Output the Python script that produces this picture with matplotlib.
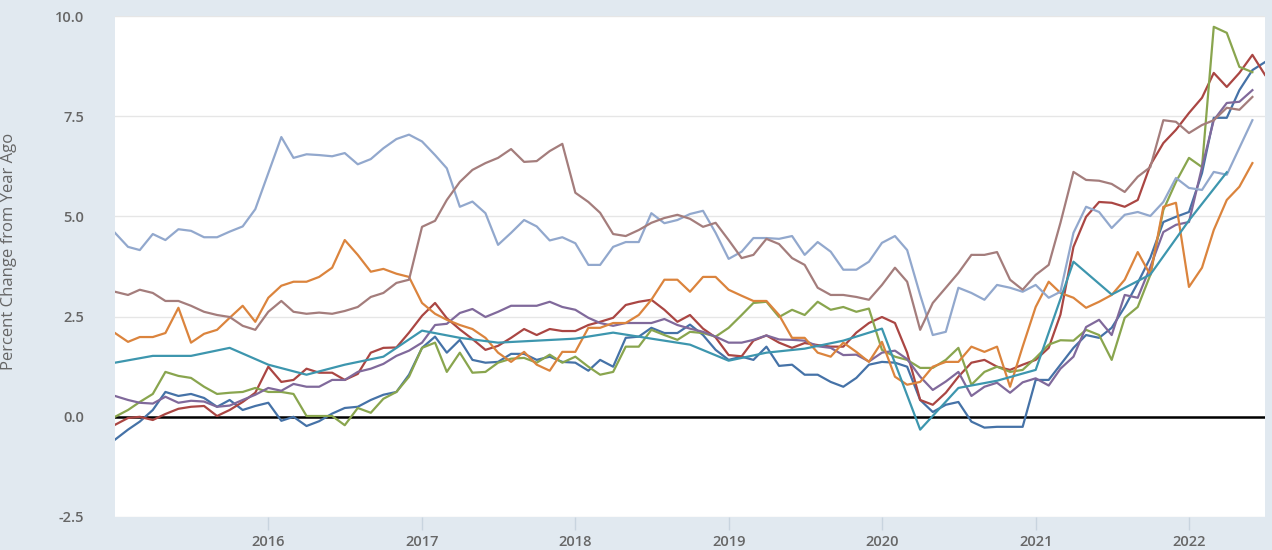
import matplotlib
matplotlib.use("Agg")
import matplotlib.pyplot as plt
import matplotlib.dates as mdates
import pandas as pd

# monthly series, Jan 2015 onwards (percent change from year ago)
light_blue = [4.59, 4.24, 4.16, 4.56, 4.41, 4.68, 4.64, 4.48, 4.48, 4.62, 4.75, 5.18,
              6.08, 6.98, 6.46, 6.55, 6.53, 6.5, 6.58, 6.3, 6.43, 6.7, 6.93, 7.04,
              6.87, 6.53, 6.2, 5.24, 5.37, 5.08, 4.29, 4.59, 4.91, 4.75, 4.4, 4.48,
              4.33, 3.79, 3.79, 4.24, 4.36, 4.36, 5.08, 4.83, 4.91, 5.06, 5.14, 4.59,
              3.94, 4.12, 4.46, 4.46, 4.44, 4.51, 4.04, 4.36, 4.12, 3.67, 3.67, 3.87,
              4.34, 4.51, 4.16, 3.04, 2.04, 2.12, 3.22, 3.09, 2.92, 3.29, 3.22, 3.12,
              3.29, 2.97, 3.12, 4.59, 5.24, 5.11, 4.71, 5.04, 5.11, 5.01, 5.36, 5.96,
              5.71, 5.66, 6.11, 6.04, 6.71, 7.4]
brown = [3.12, 3.04, 3.17, 3.09, 2.89, 2.89, 2.77, 2.62, 2.54, 2.49, 2.27, 2.17,
         2.62, 2.89, 2.62, 2.57, 2.6, 2.57, 2.64, 2.74, 2.99, 3.09, 3.34, 3.42,
         4.74, 4.89, 5.41, 5.86, 6.16, 6.33, 6.46, 6.68, 6.36, 6.38, 6.63, 6.81,
         5.59, 5.36, 5.09, 4.56, 4.51, 4.66, 4.84, 4.96, 5.04, 4.94, 4.74, 4.84,
         4.41, 3.96, 4.04, 4.44, 4.31, 3.96, 3.79, 3.22, 3.04, 3.04, 2.99, 2.92,
         3.29, 3.72, 3.37, 2.17, 2.84, 3.22, 3.59, 4.04, 4.04, 4.11, 3.42, 3.17,
         3.54, 3.79, 4.84, 6.11, 5.91, 5.89, 5.81, 5.61, 5.99, 6.23, 7.4, 7.36,
         7.08, 7.28, 7.4, 7.71, 7.66, 7.98]
orange = [2.09, 1.87, 1.99, 1.99, 2.09, 2.72, 1.85, 2.07, 2.17, 2.47, 2.77, 2.37,
          2.97, 3.27, 3.37, 3.37, 3.49, 3.72, 4.41, 4.04, 3.62, 3.69, 3.57, 3.49,
          2.84, 2.57, 2.42, 2.29, 2.19, 1.97, 1.6, 1.37, 1.62, 1.3, 1.15, 1.62,
          1.62, 2.22, 2.22, 2.34, 2.34, 2.54, 2.92, 3.42, 3.42, 3.12, 3.49, 3.49,
          3.17, 3.02, 2.89, 2.89, 2.54, 1.97, 1.97, 1.6, 1.5, 1.85, 1.62, 1.37,
          1.87, 1.0, 0.8, 0.87, 1.25, 1.37, 1.37, 1.75, 1.62, 1.75, 0.75, 1.75,
          2.74, 3.37, 3.09, 2.97, 2.72, 2.87, 3.04, 3.42, 4.11, 3.54, 5.24, 5.34,
          3.24, 3.72, 4.66, 5.41, 5.74, 6.33]
purple = [0.52, 0.42, 0.35, 0.33, 0.5, 0.35, 0.4, 0.38, 0.25, 0.28, 0.42, 0.55,
          0.72, 0.65, 0.82, 0.75, 0.75, 0.92, 0.92, 1.12, 1.2, 1.32, 1.52, 1.65,
          1.85, 2.29, 2.32, 2.59, 2.69, 2.49, 2.62, 2.77, 2.77, 2.77, 2.87, 2.74,
          2.67, 2.47, 2.34, 2.27, 2.34, 2.34, 2.34, 2.44, 2.29, 2.2, 2.12, 2.0,
          1.85, 1.85, 1.92, 2.03, 1.93, 1.92, 1.9, 1.76, 1.72, 1.54, 1.55, 1.38,
          1.6, 1.65, 1.44, 1.0, 0.67, 0.88, 1.12, 0.52, 0.75, 0.85, 0.6, 0.86,
          0.96, 0.78, 1.2, 1.5, 2.24, 2.42, 2.04, 3.04, 2.97, 3.74, 4.61, 4.79,
          4.86, 6.23, 7.4, 7.83, 7.86, 8.15]
red = [-0.2, -0.03, 0.0, -0.08, 0.07, 0.2, 0.25, 0.27, 0.02, 0.17, 0.37, 0.6,
       1.25, 0.87, 0.92, 1.2, 1.1, 1.1, 0.92, 1.07, 1.6, 1.72, 1.73, 2.1,
       2.52, 2.84, 2.46, 2.18, 1.94, 1.67, 1.77, 1.97, 2.19, 2.04, 2.19, 2.14,
       2.14, 2.29, 2.37, 2.47, 2.79, 2.87, 2.92, 2.67, 2.37, 2.54, 2.2, 1.98,
       1.54, 1.51, 1.9, 2.03, 1.85, 1.72, 1.84, 1.79, 1.75, 1.75, 2.1, 2.34,
       2.49, 2.34, 1.6, 0.42, 0.3, 0.6, 1.0, 1.35, 1.42, 1.25, 1.17, 1.3,
       1.42, 1.72, 2.55, 4.24, 4.99, 5.36, 5.34, 5.24, 5.41, 6.28, 6.83, 7.16,
       7.58, 7.96, 8.58, 8.23, 8.58, 9.03, 8.53]
green = [0.0, 0.17, 0.37, 0.57, 1.12, 1.02, 0.97, 0.75, 0.57, 0.6, 0.62, 0.72,
         0.62, 0.62, 0.57, 0.02, 0.02, 0.02, -0.21, 0.22, 0.1, 0.45, 0.62, 1.0,
         1.72, 1.85, 1.12, 1.6, 1.1, 1.12, 1.35, 1.45, 1.47, 1.35, 1.55, 1.35,
         1.5, 1.25, 1.05, 1.12, 1.75, 1.75, 2.17, 2.04, 1.92, 2.12, 2.09, 2.0,
         2.22, 2.54, 2.84, 2.87, 2.49, 2.67, 2.54, 2.87, 2.67, 2.74, 2.62, 2.7,
         1.67, 1.5, 1.42, 1.22, 1.22, 1.42, 1.72, 0.8, 1.12, 1.25, 1.12, 1.17,
         1.47, 1.8, 1.91, 1.9, 2.17, 2.04, 1.42, 2.47, 2.74, 3.54, 5.16, 5.86,
         6.46, 6.23, 9.73, 9.58, 8.73, 8.6]
dark_blue = [-0.57, -0.32, -0.12, 0.17, 0.62, 0.52, 0.57, 0.47, 0.25, 0.42, 0.17, 0.27,
             0.35, -0.1, 0.0, -0.23, -0.11, 0.08, 0.22, 0.25, 0.42, 0.55, 0.62, 1.05,
             1.72, 2.0, 1.6, 1.92, 1.42, 1.35, 1.37, 1.57, 1.57, 1.42, 1.5, 1.37,
             1.35, 1.15, 1.42, 1.25, 1.97, 2.0, 2.22, 2.09, 2.09, 2.3, 2.04, 1.67,
             1.42, 1.5, 1.42, 1.75, 1.27, 1.3, 1.05, 1.05, 0.87, 0.75, 0.97, 1.3,
             1.37, 1.35, 1.25, 0.42, 0.12, 0.3, 0.37, -0.12, -0.27, -0.25, -0.25, -0.25,
             0.92, 0.92, 1.3, 1.72, 2.04, 1.97, 2.22, 2.74, 3.34, 3.97, 4.86, 4.99,
             5.11, 6.08, 7.46, 7.46, 8.15, 8.65, 8.85]
# quarterly series, Jan 2015 onwards
teal = [1.35, 1.52, 1.52, 1.72, 1.3, 1.05, 1.3, 1.5, 2.15, 1.97,
        1.85, 1.9, 1.95, 2.1, 1.95, 1.8, 1.4, 1.6, 1.7, 1.9,
        2.2, -0.32, 0.72, 0.9, 1.17, 3.87, 3.05, 3.55, 4.9, 6.1]

y_ticks = [-2.5, 0.0, 2.5, 5.0, 7.5, 10.0]
x_years = [2016, 2017, 2018, 2019, 2020, 2021, 2022]

monthly = pd.date_range("2015-01-01", periods=91, freq="MS")
quarterly = pd.date_range("2015-01-01", periods=len(teal), freq="QS")

series = [
    (dark_blue, "#4572A7"),
    (red, "#AA4643"),
    (green, "#89A54E"),
    (purple, "#80699B"),
    (orange, "#DB843D"),
    (light_blue, "#92A8CD"),
    (brown, "#A47D7C"),
]

bg = "#e1e9f0"
fig = plt.figure(figsize=(12.72, 5.5), dpi=100, facecolor=bg)
ax = fig.add_axes([115 / 1272, 33 / 550, 1150 / 1272, 501 / 550])
ax.set_facecolor("white")

ax.axhline(0, color="black", lw=1.8, zorder=1)
for vals, col in series:
    ax.plot(monthly[:len(vals)], vals, color=col, lw=1.6, zorder=2)
ax.plot(quarterly, teal, color="#3D96AE", lw=1.6, zorder=2)

ax.set_ylim(-2.5, 10)
ax.set_yticks(y_ticks)
ax.set_yticklabels([f"{v:.1f}" for v in y_ticks])
ax.set_xlim(pd.Timestamp("2015-01-01"), pd.Timestamp("2022-07-01"))
ax.set_xticks([pd.Timestamp(f"{y}-01-01") for y in x_years])
ax.set_xticklabels([str(y) for y in x_years])

ax.grid(axis="y", color="#e6e6e6", lw=1)
ax.set_axisbelow(True)
for s in ax.spines.values():
    s.set_visible(False)

ax.tick_params(axis="y", length=0, pad=22, labelsize=10.5, labelcolor="#666666")
ax.tick_params(axis="x", length=9, width=1, color="#c8d4df", pad=4,
               labelsize=10.5, labelcolor="#666666")
for lab in ax.get_xticklabels() + ax.get_yticklabels():
    lab.set_fontfamily("Open Sans")
    lab.set_fontweight("semibold")

ax.set_ylabel("Percent Change from Year Ago", fontsize=12, color="#666666",
              fontfamily="Open Sans")
ax.yaxis.set_label_coords(-0.085, 0.53)

fig.savefig("out.png", dpi=100, facecolor=bg)
